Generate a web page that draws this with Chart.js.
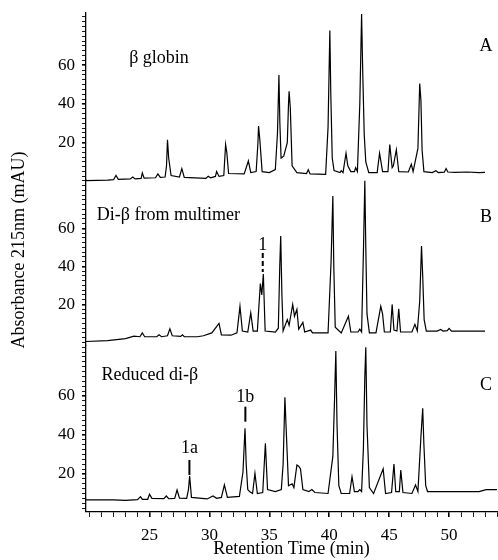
<!DOCTYPE html>
<html>
<head>
<meta charset="utf-8">
<script src="https://cdn.jsdelivr.net/npm/chart.js@4.4.1/dist/chart.umd.min.js"></script>
<style>
  html, body { margin: 0; padding: 0; background: #fff; }
</style>
</head>
<body>
<canvas id="chart" width="498" height="560"></canvas>
<script>
// Retention time (min) and absorbance (mAU)
const timeA = [19.7, 21.5, 22.0, 22.2, 22.4, 23.4, 23.6, 23.8, 24.3, 24.4, 24.55, 25.5, 25.7, 25.9, 26.3, 26.42, 26.5, 26.6, 26.8,
  27.5, 27.7, 27.9, 29.7, 29.9, 30.1, 30.5, 30.6, 30.8, 31.2, 31.35, 31.45, 31.6, 32.9, 33.25, 33.45, 33.9, 34.05, 34.1, 34.2, 34.4,
  35.0, 35.5, 35.68, 35.8, 35.88, 35.98, 36.2, 36.5, 36.6, 36.65, 36.75, 36.9, 37.3, 38.1, 38.25, 38.4, 39.7, 39.9, 40.05, 40.13, 40.25, 40.4,
  40.9, 41.0, 41.15, 41.4, 41.55, 41.8, 42.1, 42.2, 42.35, 42.55, 42.7, 42.8, 42.92, 43.05, 43.3, 44.0, 44.2, 44.45, 44.9,
  45.05, 45.25, 45.35, 45.6, 45.8, 46.6, 46.85, 47.0, 47.4, 47.55, 47.65, 47.75, 47.9, 48.6, 48.9, 49.1, 49.6, 49.75, 49.9,
  50.5, 51.5, 52.5, 53.0];
const absA = [0.3, 0.6, 0.8, 3.0, 1.0, 1.2, 2.2, 1.2, 1.5, 4.3, 1.6, 1.8, 3.8, 2.0, 2.2, 8, 21.5, 12, 3.0,
  2.2, 6.5, 2.0, 1.5, 2.6, 1.8, 2.5, 5.0, 2.5, 3.0, 19, 15, 4.0, 3.8, 10.5, 4.5, 5, 20, 28.5, 22, 5.0,
  4.5, 6, 25, 55, 30, 12, 13, 20, 40, 46.5, 38, 8, 4.5, 4.0, 6.0, 3.8, 3.6, 28, 78, 45, 12, 5.5,
  4.5, 5.5, 4.5, 14.5, 8, 5, 5, 7, 5, 40, 86.5, 55, 24, 10, 4.5, 4.5, 14.5, 5, 5,
  19, 7, 8, 16.3, 5, 4.8, 8.8, 5, 17, 50.5, 42, 16, 5, 4.5, 5.5, 4.5, 4.7, 6.6, 4.8,
  4.6, 4.8, 4.5, 4.6];

const timeB = [19.7, 21.5, 23.0, 23.7, 24.2, 24.4, 24.6, 25.6, 25.8, 26.0, 26.5, 26.7, 26.9, 27.6, 27.75, 27.9, 29.0, 29.5,
  30.2, 30.8, 31.0, 31.8, 32.3, 32.55, 32.75, 33.2, 33.45, 33.65, 34.0, 34.25, 34.37, 34.5, 34.65, 35.5, 35.75, 35.87, 35.95,
  36.05, 36.15, 36.5, 36.65, 36.95, 37.1, 37.3, 37.45, 37.8, 37.95, 38.45, 38.6, 39.9, 40.15, 40.3, 40.38, 40.5, 41.0, 41.6, 41.8,
  42.4, 42.55, 42.7, 42.85, 42.97, 43.05, 43.15, 43.35, 43.9, 44.3, 44.45, 44.6, 45.1, 45.25, 45.4, 45.65, 45.8, 45.95, 46.9,
  47.15, 47.35, 47.55, 47.7, 47.8, 47.92, 48.1, 49.0, 49.3, 49.5, 49.85, 50.0, 50.2, 52.0, 53.0];
const absB = [0.5, 1.0, 2.0, 3.3, 3.0, 5.0, 3, 3, 4, 3, 3.5, 7.2, 3.5, 3.2, 4, 3, 3, 3.5,
  5, 10, 4, 3.8, 5, 19, 6, 5.5, 15.5, 6, 6, 31, 25, 36, 6, 5.4, 7.5, 40, 56,
  25, 6, 12, 9, 20, 13.8, 17.4, 7, 10.5, 5.5, 6.5, 5, 5, 42, 77, 40, 8, 5, 13.8, 5.5,
  5.5, 7, 5.5, 47, 85, 50, 15, 5, 5, 19, 15, 5.5, 5.5, 20, 6.5, 6, 17.7, 5.5, 5.5,
  9.5, 6, 21.7, 50.7, 35, 12, 6, 6, 6.8, 6, 6.2, 7.4, 6, 6, 6];

const timeC = [19.7, 22.0, 23.0, 24.0, 24.25, 24.4, 24.85, 25.0, 25.2, 26.2, 26.4, 26.6, 27.1, 27.3, 27.5, 28.1, 28.25, 28.35,
  28.5, 29.8, 30.3, 30.6, 31.0, 31.25, 31.5, 32.5, 32.8, 32.97, 33.07, 33.2, 33.35, 33.6, 33.8, 34.0, 34.45, 34.67, 34.85,
  35.5, 36.0, 36.15, 36.3, 36.4, 36.6, 36.9, 37.05, 37.3, 37.45, 37.6, 37.8, 38.3, 38.55, 38.8, 39.9, 40.3, 40.45, 40.55,
  40.65, 40.8, 41.0, 41.7, 41.9, 42.1, 42.4, 42.55, 42.7, 42.85, 42.97, 43.05, 43.15, 43.35, 43.7, 44.5, 44.7, 45.2, 45.4, 45.55, 45.85,
  45.97, 46.15, 46.9, 47.2, 47.4, 47.65, 47.8, 47.9, 48.05, 48.2, 50.0, 52.5, 53.1, 54.0];
const absC = [6.7, 6.7, 6.5, 6.8, 8.4, 7, 7, 9.6, 7.5, 7.4, 8.7, 7.3, 7.5, 11.8, 7.6, 7.5, 12, 19,
  8, 7.2, 8.7, 7.5, 8, 14.4, 8, 8.5, 21, 43.4, 25, 12, 11, 10, 20.3, 10, 10.5, 35.7, 12,
  11, 12, 25, 59.3, 44, 14, 15, 13, 24.6, 24, 22.6, 12, 11, 12, 10.5, 10, 29, 60, 83,
  45, 14, 10, 10, 18.6, 11, 11, 12, 11, 33, 70, 85, 45, 13, 10, 22.6, 10, 10.5, 25.1, 11, 11,
  22, 10.5, 10, 14.4, 11, 39, 53.7, 35, 14, 11, 11, 11, 12, 12];

const xTickLabels = [25, 30, 35, 40, 45, 50];
const yTickLabels = [20, 40, 60];
const panelNames = ["β globin", "Di-β from multimer", "Reduced di-β"];
const panelLetters = ["A", "B", "C"];
const peakLabels = ["1", "1a", "1b"];
const peakTimes = [34.45, 28.33, 33.0];

const serif = '"Liberation Serif", "DejaVu Serif", serif';
const panelIds = ["yA", "yB", "yC"];
const panelRanges = [[1, 87], [-1.7, 85.8], [0.5, 85.8]];

// where the panel texts sit (time, level in that panel's mAU)
const namePos = [[23.3, 63.5], [20.6, 67], [21.0, 70.8]];
const letterLevel = [70, 66, 65.6];
// peak marks: panel, label level, line from, line to, dashed
const peakPos = [["yB", 51.3, 47, 37, true], ["yC", 33.3, 27.2, 19.5, false], ["yC", 59.5, 54.5, 46.8, false]];

function points(ts, vs) {
  return ts.map((t, i) => ({ x: t, y: vs[i] }));
}

function isMajor(c, list) {
  return c.tick !== undefined && list.includes(c.tick.value);
}

// evenly spaced tick marks inside [min, max]
function stepTicks(s, step) {
  const ticks = [];
  for (let k = Math.ceil(s.min / step - 1e-9); k * step <= s.max + 1e-9; k++) {
    ticks.push({ value: Math.round(k * step * 100) / 100 });
  }
  s.ticks = ticks;
}

function yScale(i) {
  return {
    type: "linear",
    position: "left",
    stack: "panels",
    stackWeight: 1,
    min: panelRanges[i][0],
    max: panelRanges[i][1],
    afterFit: s => { s.width = 86; s.paddingTop = 0; s.paddingBottom = 0; },
    afterBuildTicks: s => stepTicks(s, 2.5),
    border: { color: "#000", width: 1.3 },
    grid: {
      drawOnChartArea: false,
      tickLength: 4,
      color: "#000",
      lineWidth: c => (isMajor(c, yTickLabels) ? 1.6 : 0.9)
    },
    ticks: {
      autoSkip: false,
      padding: 7,
      color: "#000",
      font: { family: serif, size: 17 },
      callback: v => (yTickLabels.includes(v) ? String(v) : "")
    }
  };
}

const annotate = {
  id: "annotate",
  afterDatasetsDraw(chart) {
    const { ctx, scales } = chart;
    const x = scales.x;
    ctx.save();
    ctx.fillStyle = "#000";
    ctx.strokeStyle = "#000";
    ctx.font = "18px " + serif;
    ctx.textBaseline = "middle";
    panelIds.forEach((id, i) => {
      const y = scales[id];
      ctx.textAlign = "left";
      ctx.fillText(panelNames[i], x.getPixelForValue(namePos[i][0]), y.getPixelForValue(namePos[i][1]));
      ctx.textAlign = "center";
      ctx.fillText(panelLetters[i], x.right - 11, y.getPixelForValue(letterLevel[i]));
    });
    peakLabels.forEach((lab, i) => {
      const [id, lv, l1, l2, dashed] = peakPos[i];
      const y = scales[id];
      const px = x.getPixelForValue(peakTimes[i]);
      ctx.textAlign = "center";
      ctx.fillText(lab, px, y.getPixelForValue(lv));
      ctx.lineWidth = 2;
      ctx.setLineDash(dashed ? [5, 3] : []);
      ctx.beginPath();
      ctx.moveTo(px, y.getPixelForValue(l1));
      ctx.lineTo(px, y.getPixelForValue(l2));
      ctx.stroke();
    });
    ctx.setLineDash([]);
    // y axis title
    ctx.translate(19, 250);
    ctx.rotate(-Math.PI / 2);
    ctx.textAlign = "center";
    ctx.fillText("Absorbance 215nm (mAU)", 0, 0);
    ctx.restore();
  }
};

const series = [[timeA, absA], [timeB, absB], [timeC, absC]];

new Chart(document.getElementById("chart"), {
  type: "line",
  data: {
    datasets: series.map((s, i) => ({
      data: points(s[0], s[1]),
      yAxisID: panelIds[i],
      borderColor: "#000",
      borderWidth: 1.2,
      pointRadius: 0,
      tension: 0,
      fill: false,
      clip: false
    }))
  },
  options: {
    responsive: false,
    animation: false,
    layout: { padding: { left: 0, right: 1, top: 13, bottom: 0 } },
    plugins: { legend: { display: false }, tooltip: { enabled: false } },
    scales: {
      x: {
        type: "linear",
        min: 19.7,
        max: 54,
        afterFit: s => { s.height = 48; s.paddingLeft = 0; s.paddingRight = 0; },
        afterBuildTicks: s => stepTicks(s, 1),
        border: { color: "#000", width: 1.3 },
        grid: {
          drawOnChartArea: false,
          tickLength: 5,
          color: "#000",
          lineWidth: c => (isMajor(c, xTickLabels) ? 1.6 : 0.9)
        },
        ticks: {
          autoSkip: false,
          maxRotation: 0,
          padding: 8,
          color: "#000",
          font: { family: serif, size: 17 },
          callback: v => (xTickLabels.includes(v) ? String(v) : "")
        },
        title: {
          display: true,
          text: "Retention Time (min)",
          color: "#000",
          font: { family: serif, size: 18 },
          padding: { top: 0, bottom: 0 }
        }
      },
      // last listed stacked axis is placed at the top
      yC: yScale(2),
      yB: yScale(1),
      yA: yScale(0)
    }
  },
  plugins: [annotate]
});
</script>
</body>
</html>
